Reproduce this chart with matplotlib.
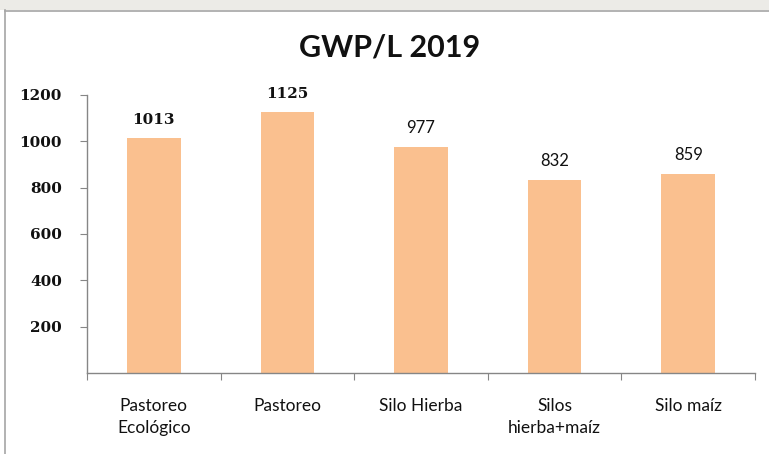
import matplotlib
matplotlib.use("Agg")
import numpy as np
from matplotlib import pyplot as plt
from matplotlib.patches import Rectangle
from matplotlib.lines import Line2D

categories = ["Pastoreo\nEcológico", "Pastoreo", "Silo Hierba", "Silos\nhierba+maíz", "Silo maíz"]
values = [1013, 1125, 977, 832, 859]
yticks = [200, 400, 600, 800, 1000, 1200]

W, H = 769, 454
fig = plt.figure(figsize=(W / 100, H / 100), dpi=100)
fig.patch.set_facecolor("white")

# gray strip at top and chart frame
fig.patches.append(Rectangle((0, 1 - 10 / H), 1, 10 / H, transform=fig.transFigure,
                             facecolor="#ECEBE7", edgecolor="none", zorder=0))
fig.lines.append(Line2D([5 / W, 5 / W], [0, 1 - 10 / H], transform=fig.transFigure,
                        color="#A6A6A6", lw=1.2))
fig.lines.append(Line2D([5 / W, 1], [1 - 10.5 / H, 1 - 10.5 / H], transform=fig.transFigure,
                        color="#A6A6A6", lw=1.2))

ax = fig.add_axes([87 / W, 1 - 373 / H, (755 - 87) / W, (373 - 95) / H])
x = np.arange(len(values))
ax.bar(x, values, width=0.4, color="#FAC08F", edgecolor="none")
ax.set_xlim(-0.5, len(values) - 0.5)
ax.set_ylim(0, 1200)

for xi, v in zip(x, values):
    bold = v > 1000
    ax.annotate(str(v), (xi, v), xytext=(0, 8), textcoords="offset points",
                ha="center", va="bottom", fontsize=11 if bold else 12,
                family="DejaVu Serif" if bold else "Lato",
                fontweight="bold" if bold else "normal", color="#111111")

for s in ["top", "right"]:
    ax.spines[s].set_visible(False)
for s in ["left", "bottom"]:
    ax.spines[s].set_color("#868686")
    ax.spines[s].set_linewidth(1.0)

ax.set_yticks(yticks)
ax.set_yticklabels([str(t) for t in yticks], family="DejaVu Serif",
                   fontweight="bold", fontsize=11, color="#111111")
ax.tick_params(axis="y", length=5, color="#868686", pad=13)

ax.set_xticks(np.arange(-0.5, len(values)), minor=False)
ax.set_xticklabels([])
ax.set_xticks(x, minor=True)
ax.set_xticklabels(categories, minor=True, family="Lato", fontsize=12.5,
                   color="#111111", linespacing=1.45)
ax.tick_params(axis="x", which="major", length=5, color="#868686")
ax.tick_params(axis="x", which="minor", length=0, pad=18)

fig.text(390 / W, 1 - 48 / H, "GWP/L 2019", ha="center", va="center",
         family="Lato", fontweight="bold", fontsize=22, color="#111111")

fig.savefig("out.png", dpi=100)
